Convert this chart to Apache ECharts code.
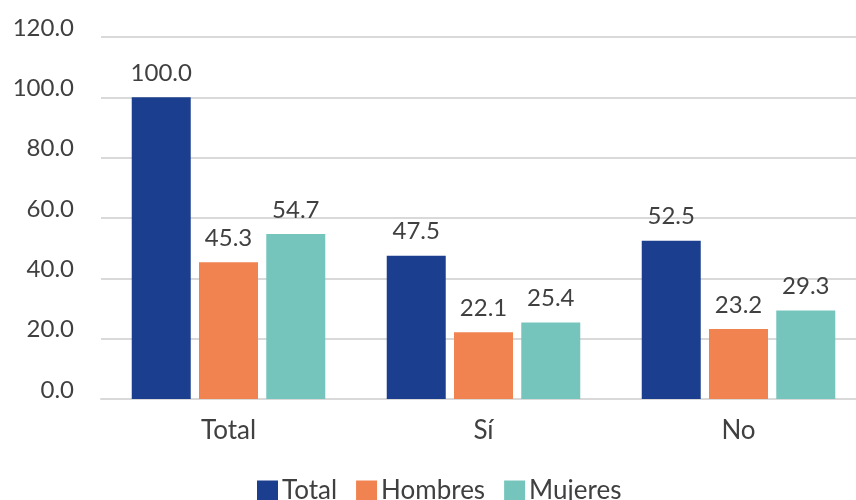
<!DOCTYPE html>
<html>
<head>
<meta charset="utf-8">
<script src="https://cdn.jsdelivr.net/npm/echarts@6/dist/echarts.min.js"></script>
<style>
html,body{margin:0;padding:0;background:#fff;}
#chart{width:856px;height:500px;}
</style>
</head>
<body>
<div id="chart"></div>
<script>
const categories = ['Total', 'Sí', 'No'];
const totalValues = [100.0, 47.5, 52.5];
const hombresValues = [45.3, 22.1, 23.2];
const mujeresValues = [54.7, 25.4, 29.3];
const seriesNames = ['Total', 'Hombres', 'Mujeres'];
const yTicks = { min: 0, max: 120, interval: 20 };

const FONT = 'Lato';
const TXT = '#404040';
const colors = ['#1B3F8E', '#F08350', '#76C5BD'];

function makeSeries(name, data, color) {
  return {
    name: name,
    type: 'bar',
    data: data,
    barWidth: 59,
    barGap: '14%',
    itemStyle: { color: color },
    label: {
      show: true,
      position: 'top',
      distance: 12,
      color: TXT,
      fontFamily: FONT,
      fontSize: 24,
      formatter: p => p.value.toFixed(1)
    }
  };
}

const chart = echarts.init(document.getElementById('chart'), null, { renderer: 'canvas' });
chart.setOption({
  animation: false,
  backgroundColor: '#fff',
  textStyle: { fontFamily: FONT, color: TXT },
  grid: { left: 101, top: 37, width: 765, height: 362, containLabel: false, outerBoundsMode: 'none' },
  legend: {
    data: seriesNames,
    left: 257,
    top: 478,
    padding: 0,
    itemWidth: 21,
    itemHeight: 21,
    itemGap: 19,
    icon: 'rect',
    textStyle: { fontFamily: FONT, fontSize: 26, color: TXT, padding: [0, 0, 0, -1] }
  },
  xAxis: {
    type: 'category',
    data: categories,
    axisTick: { show: false },
    axisLine: { show: true, lineStyle: { color: '#D9D9D9', width: 2 } },
    axisLabel: { color: TXT, fontFamily: FONT, fontSize: 26, margin: 19 }
  },
  yAxis: {
    type: 'value',
    min: yTicks.min,
    max: yTicks.max,
    interval: yTicks.interval,
    axisLine: { show: false },
    axisTick: { show: false },
    splitLine: { lineStyle: { color: '#D9D9D9', width: 2 } },
    axisLabel: {
      color: TXT, fontFamily: FONT, fontSize: 24, margin: 27,
      verticalAlign: 'bottom', lineHeight: 18,
      formatter: v => v.toFixed(1)
    }
  },
  series: [
    makeSeries(seriesNames[0], totalValues, colors[0]),
    makeSeries(seriesNames[1], hombresValues, colors[1]),
    makeSeries(seriesNames[2], mujeresValues, colors[2])
  ]
});
</script>
</body>
</html>
